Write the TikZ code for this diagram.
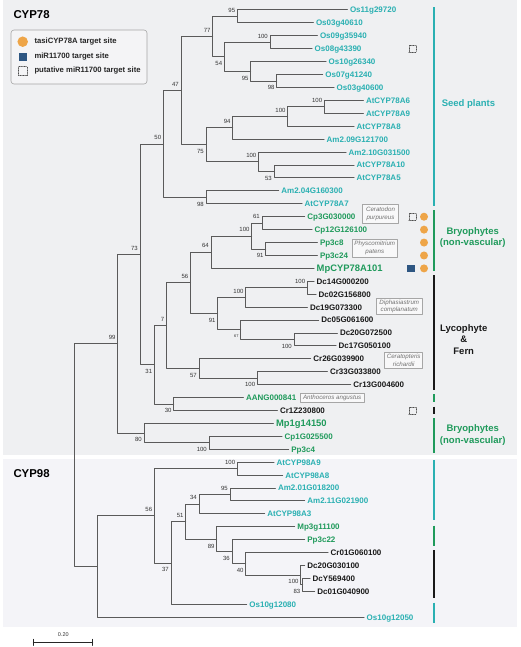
\documentclass[tikz,border=0pt]{standalone}
\usepackage{fontspec}
\setmainfont{Liberation Sans}
\usetikzlibrary{calc}

\definecolor{seedteal}{HTML}{2AB0B2}
\definecolor{bryogreen}{HTML}{1F9A5B}
\definecolor{treegray}{HTML}{5A5A5A}
\definecolor{panelA}{HTML}{EFF0F2}
\definecolor{panelB}{HTML}{F4F4F8}
\definecolor{tasiorange}{HTML}{EEA548}
\definecolor{mirblue}{HTML}{2E5682}

\tikzset{
  tip/.style={anchor=west, inner xsep=2.5pt, inner ysep=0pt, text height=5.8pt, text depth=0pt,
    font=\fontsize{8}{9}\selectfont\bfseries},
  bigtip/.style={tip, text height=6.8pt, font=\fontsize{9.4}{11}\selectfont\bfseries},
  seed/.style={text=seedteal},
  bryo/.style={text=bryogreen},
  lyco/.style={text=black!90},
  br/.style={draw=treegray, line width=1pt},
  bsa/.style={anchor=south east, inner sep=0pt, xshift=-2pt, yshift=4pt,
    font=\fontsize{6}{7}\selectfont, text=black!80},
  bsb/.style={anchor=north east, inner sep=0pt, xshift=-2pt, yshift=-4.3pt,
    font=\fontsize{6}{7}\selectfont, text=black!80},
  species/.style={draw=black!35, fill=white!55!panelA, text=black!55, align=center, inner sep=0pt,
    line width=0.5pt, font=\fontsize{6.2}{7.2}\selectfont\itshape},
  clade/.style={font=\fontsize{9.5}{11.5}\selectfont\bfseries, align=center},
  cladebar/.style={line width=2pt},
  tasi/.style={circle, fill=tasiorange, minimum size=8pt, inner sep=0pt},
  mir/.style={rectangle, fill=mirblue, minimum size=7.5pt, inner sep=0pt},
  pmir/.style={rectangle, draw=black!70, densely dotted, line width=0.6pt, minimum size=7pt, inner sep=0pt}
}

\begin{document}
\begin{tikzpicture}[x=1pt,y=-1pt,line cap=round,line join=round]

	\useasboundingbox (0,0) rectangle (520,647);

	% panels
	\fill[panelA] (2.5,0) rectangle (517,455);
	\fill[panelB] (2.5,458.5) rectangle (517,626.5);
	\node[anchor=west, inner sep=0pt, font=\fontsize{11.4}{13}\selectfont\bfseries] (cyp78) at (13.3,15) {CYP78};
	\node[anchor=west, inner sep=0pt, font=\fontsize{11.4}{13}\selectfont\bfseries] (cyp98) at (13.3,473.3) {CYP98};

	% legend
	\draw[draw=black!35, fill=white!30!panelA, rounded corners=3pt, line width=0.6pt] (11,30) rectangle (147,84);
	\node[tasi, minimum size=10.5pt] (legtasi) at (22.7,41.7) {};
	\node[mir, minimum size=8pt] (legmir) at (22.7,56.7) {};
	\node[pmir, minimum size=8.5pt] (legpmir) at (22.7,71) {};
	\foreach \yy/\txt in {41.7/tasiCYP78A target site, 56.7/miR11700 target site, 71/putative miR11700 target site}
	{\node[anchor=west, inner sep=0pt, text=black!85, font=\fontsize{7.7}{9}\selectfont\bfseries] at (34.3,\yy) {\txt};}

	% tree, y in rows
	\begin{scope}[y=-12.92pt, yshift=-10pt]

		% CYP78 tips
		\node[tip,seed] (os11g29720) at (347.3,0) {Os11g29720};
		\node[tip,seed] (os03g40610) at (313.3,1) {Os03g40610};
		\node[tip,seed] (os09g35940) at (317.3,2) {Os09g35940};
		\node[tip,seed] (os08g43390) at (312,3) {Os08g43390};
		\node[tip,seed] (os10g26340) at (326,4) {Os10g26340};
		\node[tip,seed] (os07g41240) at (322.7,5) {Os07g41240};
		\node[tip,seed] (os03g40600) at (334,6) {Os03g40600};
		\node[tip,seed] (at78a6) at (363.3,7) {AtCYP78A6};
		\node[tip,seed] (at78a9) at (363.3,8) {AtCYP78A9};
		\node[tip,seed] (at78a8) at (354,9) {AtCYP78A8};
		\node[tip,seed] (am209) at (324,10) {Am2.09G121700};
		\node[tip,seed] (am210) at (346,11) {Am2.10G031500};
		\node[tip,seed] (at78a10) at (354,12) {AtCYP78A10};
		\node[tip,seed] (at78a5) at (354,13) {AtCYP78A5};
		\node[tip,seed] (am204) at (278.7,14) {Am2.04G160300};
		\node[tip,seed] (at78a7) at (302,15) {AtCYP78A7};
		\node[tip,bryo] (cp3g) at (304.7,16) {Cp3G030000};
		\node[tip,bryo] (cp12g) at (312,17) {Cp12G126100};
		\node[tip,bryo] (pp3c8) at (317.3,18) {Pp3c8};
		\node[tip,bryo] (pp3c24) at (317.3,19) {Pp3c24};
		\node[bigtip,bryo] (mp78a101) at (314,20) {MpCYP78A101};
		\node[tip,lyco] (dc14g) at (314,21) {Dc14G000200};
		\node[tip,lyco] (dc02g) at (316,22) {Dc02G156800};
		\node[tip,lyco] (dc19g) at (307.3,23) {Dc19G073300};
		\node[tip,lyco] (dc05g) at (318.7,24) {Dc05G061600};
		\node[tip,lyco] (dc20g072) at (337.3,25) {Dc20G072500};
		\node[tip,lyco] (dc17g) at (336,26) {Dc17G050100};
		\node[tip,lyco] (cr26g) at (310.7,27) {Cr26G039900};
		\node[tip,lyco] (cr33g) at (327.3,28) {Cr33G033800};
		\node[tip,lyco] (cr13g) at (350.7,29) {Cr13G004600};
		\node[tip,bryo] (aang) at (243.3,30) {AANG000841};
		\node[tip,lyco] (cr1z) at (277.3,31) {Cr1Z230800};
		\node[bigtip,bryo] (mp1g) at (273.3,32) {Mp1g14150};
		\node[tip,bryo] (cp1g) at (282,33) {Cp1G025500};
		\node[tip,bryo] (pp3c4) at (288.7,34) {Pp3c4};

		% CYP98 tips
		\node[tip,seed] (at98a9) at (274,35) {AtCYP98A9};
		\node[tip,seed] (at98a8) at (282.7,36) {AtCYP98A8};
		\node[tip,seed] (am201) at (275.3,37) {Am2.01G018200};
		\node[tip,seed] (am211) at (304.7,38) {Am2.11G021900};
		\node[tip,seed] (at98a3) at (264.7,39) {AtCYP98A3};
		\node[tip,bryo] (mp3g) at (294.7,40) {Mp3g11100};
		\node[tip,bryo] (pp3c22) at (304.7,41) {Pp3c22};
		\node[tip,lyco] (cr01g) at (328,42) {Cr01G060100};
		\node[tip,lyco] (dc20g030) at (304.7,43) {Dc20G030100};
		\node[tip,lyco] (dcy) at (310,44) {DcY569400};
		\node[tip,lyco] (dc01g) at (314.7,45) {Dc01G040900};
		\node[tip,seed] (os10g12080) at (246.7,46) {Os10g12080};
		\node[tip,seed] (os10g12050) at (364,47) {Os10g12050};

		% internal nodes
		\coordinate (n95a) at (237.3,0.5);
		\coordinate (n100a) at (270,2.5);
		\coordinate (n98a) at (276.7,5.5);
		\coordinate (n95b) at (250.7,4.75);
		\coordinate (n54) at (224.3,3.625);
		\coordinate (n77) at (212.7,2.0625);
		\coordinate (n100b) at (324.3,7.5);
		\coordinate (n100c) at (287.7,8.25);
		\coordinate (n94) at (232.7,9.125);
		\coordinate (n53) at (274,12.5);
		\coordinate (n100d) at (258.5,11.75);
		\coordinate (n75) at (206,10.4375);
		\coordinate (n47) at (181,6.25);
		\coordinate (n98b) at (206,14.5);
		\coordinate (n50) at (163.3,10.375);
		\coordinate (n61) at (262,16.5);
		\coordinate (n91a) at (265.7,18.5);
		\coordinate (n100e) at (251.7,17.5);
		\coordinate (n64) at (211,18.75);
		\coordinate (n100f) at (307.3,21.5);
		\coordinate (n100g) at (245.7,22.25);
		\coordinate (n100h) at (294,25.5);
		\coordinate (n67) at (240.7,24.75);
		\coordinate (n91b) at (217.7,23.5);
		\coordinate (n56a) at (190.5,21.125);
		\coordinate (n100i) at (257.3,28.5);
		\coordinate (n57) at (199,27.75);
		\coordinate (n7) at (166.3,24.4375);
		\coordinate (n30) at (173.7,30.5);
		\coordinate (n31) at (154.3,27.46875);
		\coordinate (n73) at (140,18.921875);
		\coordinate (n100j) at (209,33.5);
		\coordinate (n80) at (144,32.75);
		\coordinate (n99) at (117.7,25.8359375);
		\coordinate (n100k) at (237.3,35.5);
		\coordinate (n95c) at (230,37.5);
		\coordinate (n34) at (199,38.25);
		\coordinate (n83) at (302.5,44.5);
		\coordinate (n100l) at (300.7,43.75);
		\coordinate (n40) at (245.7,42.875);
		\coordinate (n36) at (232,41.9375);
		\coordinate (n89) at (216.7,40.96875);
		\coordinate (n51) at (185.7,39.609375);
		\coordinate (n37) at (171,42.8046875);
		\coordinate (n56b) at (154.3,39.15234375);
		\coordinate (n98r) at (97,43.076171875);
		\coordinate (root) at (74.7,34.456);

		% branches to tips
		\foreach \p/\c in {n95a/os11g29720, n95a/os03g40610, n100a/os09g35940, n100a/os08g43390,
			n95b/os10g26340, n98a/os07g41240, n98a/os03g40600, n100b/at78a6, n100b/at78a9,
			n100c/at78a8, n94/am209, n100d/am210, n53/at78a10, n53/at78a5, n98b/am204, n98b/at78a7,
			n61/cp3g, n61/cp12g, n91a/pp3c8, n91a/pp3c24, n64/mp78a101, n100f/dc14g, n100f/dc02g,
			n100g/dc19g, n67/dc05g, n100h/dc20g072, n100h/dc17g, n57/cr26g, n100i/cr33g, n100i/cr13g,
			n30/aang, n30/cr1z, n80/mp1g, n100j/cp1g, n100j/pp3c4,
			n100k/at98a9, n100k/at98a8, n95c/am201, n95c/am211, n34/at98a3, n89/mp3g, n36/pp3c22,
			n40/cr01g, n100l/dc20g030, n83/dcy, n83/dc01g, n37/os10g12080, n98r/os10g12050}
		{\draw[br] (\p) |- (\c.west);}

		% branches between inner nodes
		\foreach \p/\c in {n95b/n98a, n54/n100a, n54/n95b, n77/n95a, n77/n54, n100c/n100b, n94/n100c,
			n100d/n53, n75/n94, n75/n100d, n47/n77, n47/n75, n50/n47, n50/n98b,
			n100e/n61, n100e/n91a, n64/n100e, n100g/n100f, n67/n100h, n91b/n100g, n91b/n67,
			n56a/n64, n56a/n91b, n57/n100i, n7/n56a, n7/n57, n31/n7, n31/n30, n73/n50, n73/n31,
			n80/n100j, n99/n73, n99/n80, root/n99, root/n98r,
			n34/n95c, n100l/n83, n40/n100l, n36/n40, n89/n36, n51/n34, n51/n89, n37/n51,
			n56b/n100k, n56b/n37, n98r/n56b}
		{\draw[br] (\p) |- (\c);}

		% support values
		\foreach \n/\v in {n95a/95, n77/77, n100a/100, n47/47, n100b/100, n100c/100, n94/94, n100d/100,
			n50/50, n73/73, n61/61, n100e/100, n64/64, n56a/56, n100f/100, n100g/100, n7/7, n99/99,
			n56b/56, n100k/100, n51/51, n34/34, n95c/95}
		{\path (\n) node[bsa] {\v};}
		\foreach \n/\v in {n54/54, n95b/95, n98a/98, n75/75, n53/53, n98b/98, n91a/91, n100h/100,
			n91b/91, n57/57, n100i/100, n31/31, n30/30, n80/80, n100j/100, n37/37, n89/89, n36/36,
			n40/40, n100l/100, n83/83}
		{\path (\n) node[bsb] {\v};}
		\path (n67) node[bsb, font=\fontsize{4}{5}\selectfont] {67};

		% target sites
		\foreach \r in {16,...,20}
		{\node[tasi] (tasi\r) at (424,\r) {};}
		\node[mir] (mir20) at (411,20) {};
		\node[pmir] (pmir3) at (412.3,3) {};
		\node[pmir] (pmir16) at (412.3,16) {};
		\node[pmir] (pmir31) at (412.3,31) {};

	\end{scope}

	% species boxes
	\node[species, minimum width=35.6pt, minimum height=19pt] (cerpur) at (380.5,213.8) {Ceratodon\\purpureus};
	\node[species, minimum width=45pt, minimum height=18.3pt] (phypat) at (374.8,247.9) {Physcomitrium\\patens};
	\node[species, minimum width=46.7pt, minimum height=16.4pt] (diphas) at (399.3,306.5) {Diphasiastrum\\complanatum};
	\node[species, minimum width=38pt, minimum height=16pt] (cerric) at (403.7,360.3) {Ceratopteris\\richardii};
	\node[species, minimum width=64.3pt, minimum height=8.7pt] (antang) at (332.2,397.7) {Anthoceros angustus};

	% clade bars
	\foreach \ya/\yb/\col in {7.3/206/seedteal, 210/270.7/bryogreen, 275/390/black!90, 394.3/402/bryogreen,
		406.7/414.3/black!90, 418.3/453.3/bryogreen, 460/520.3/seedteal, 525.7/546/bryogreen,
		550/598.3/black!90, 602.7/623.3/seedteal}
	{\draw[cladebar, draw=\col, line cap=butt] (434.3,\ya) -- (434.3,\yb);}

	% clade names
	\node[clade, text=seedteal] (seedplants) at (468.5,103.7) {Seed plants};
	\node[clade, text=bryogreen] (bryoA) at (472.7,237.3) {Bryophytes\\(non-vascular)};
	\node[clade, text=black!90] (lycofern) at (463.7,339.3) {Lycophyte\\\&\\Fern};
	\node[clade, text=bryogreen] (bryoB) at (472.7,434.8) {Bryophytes\\(non-vascular)};

	% scale bar
	\draw[line width=1pt, draw=black!85] (33.3,642.3) -- (92.7,642.3);
	\draw[line width=1pt, draw=black!85] (33.3,639.3) -- (33.3,645.3);
	\draw[line width=1pt, draw=black!85] (92.7,639.3) -- (92.7,645.3);
	\node[inner sep=0pt, font=\fontsize{5.5}{6.5}\selectfont, text=black!80] (scale) at (63.3,635) {0.20};

\end{tikzpicture}
\end{document}
